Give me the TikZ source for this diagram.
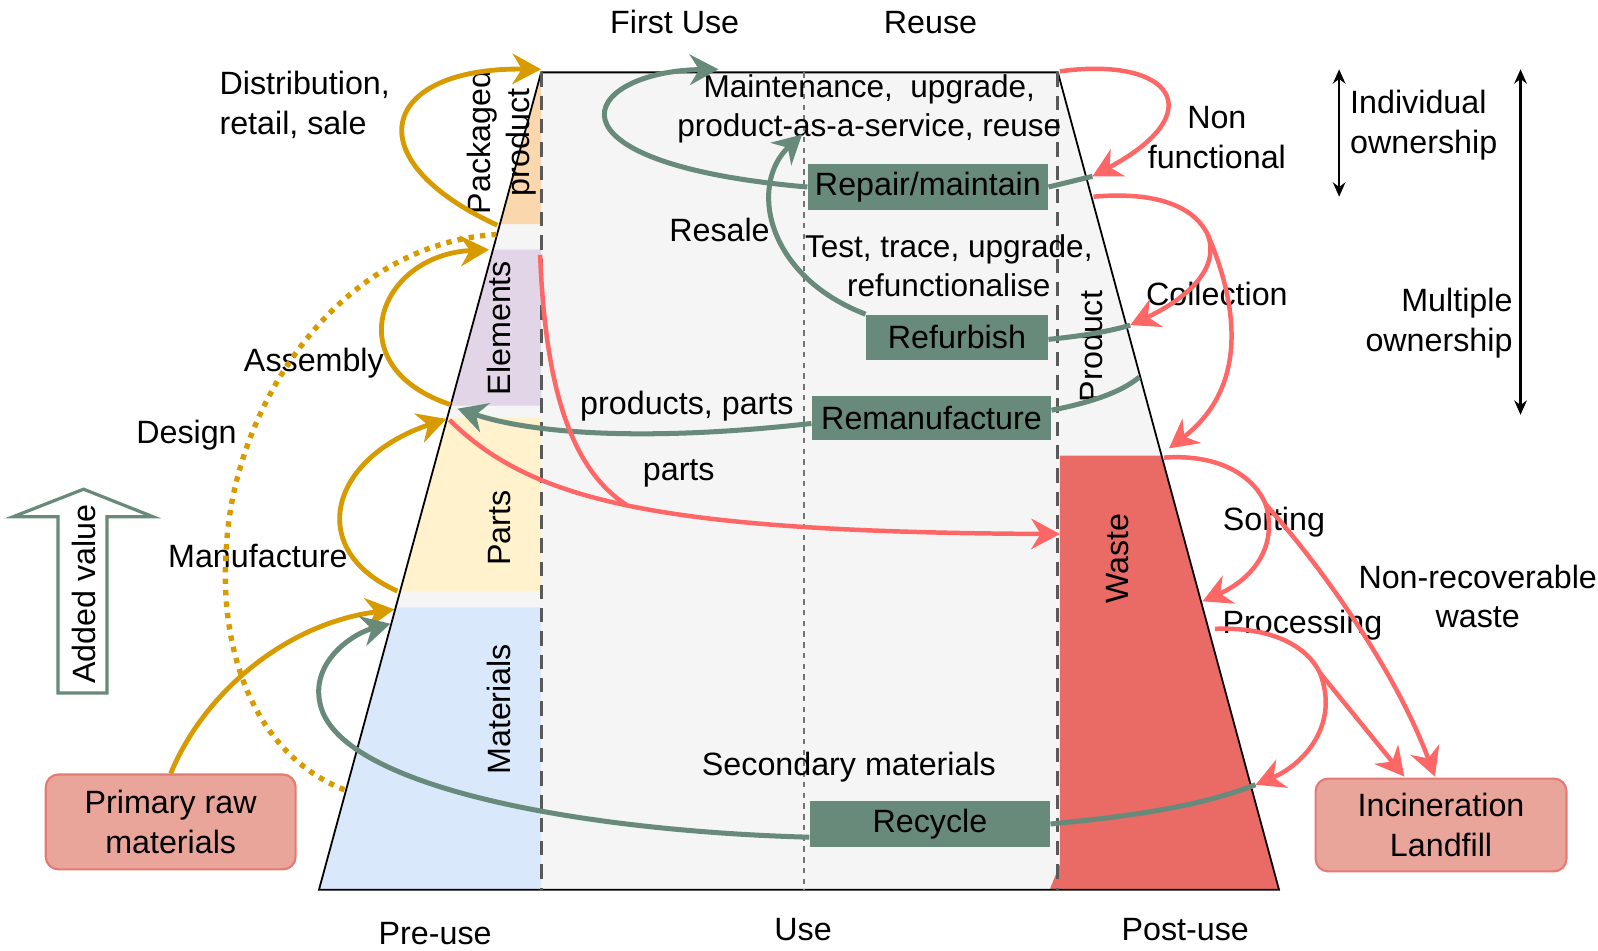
\documentclass[tikz,border=0pt]{standalone}
\usepackage{fontspec}
\setmainfont{Liberation Sans}
\usetikzlibrary{arrows.meta}
\definecolor{gold}{HTML}{D79B00}
\definecolor{sage}{HTML}{688A7A}
\definecolor{coral}{HTML}{FF6666}
\definecolor{wastered}{HTML}{EA6B66}
\definecolor{salmon}{HTML}{EAA59A}
\definecolor{salmonline}{HTML}{E37B74}
\definecolor{stagefill}{HTML}{F5F5F5}
\definecolor{pkgfill}{HTML}{FAD7AC}
\definecolor{elemfill}{HTML}{E1D5E7}
\definecolor{partfill}{HTML}{FFF2CC}
\definecolor{matfill}{HTML}{DAE8FC}
\begin{document}
\begin{tikzpicture}[x=0.01cm,y=-0.01cm,
  every node/.style={font=\fontsize{9}{11}\selectfont, inner sep=0pt, align=center},
  vlbl/.style={rotate=90},
  flowtip/.style={-{Stealth[length=8pt,width=8.5pt,inset=2.6pt]}},
  goldline/.style={draw=gold, line width=1.35pt},
  sageline/.style={draw=sage, line width=1.4pt},
  coralline/.style={draw=coral, line width=1.25pt},
  gbox/.style={fill=sage, draw=none},
  rawbox/.style={fill=salmon, draw=salmonline, line width=0.6pt, rounded corners=3.5pt},
  divider/.style={draw=black!65, line width=0.8pt, dash pattern=on 4pt off 2.5pt},
  middiv/.style={draw=black!55, line width=0.4pt, dash pattern=on 1.5pt off 1.5pt},
  span/.style={draw=black, line width=0.6pt, {Stealth[length=4pt,width=3.5pt]}-{Stealth[length=4pt,width=3.5pt]}},
]
\useasboundingbox (0,0) rectangle (1568,933);

% ---- life-cycle trapezoid ----
\fill[stagefill] (531,71) -- (1038,71) -- (1255,873) -- (313,873) -- cycle;
% pre-use bands
\fill[pkgfill]  (531,71) -- (531,220) -- (490.5,220) -- cycle;
\fill[elemfill] (483.7,245) -- (531,245) -- (531,398) -- (442.1,398) -- cycle;
\fill[partfill] (438.9,410) -- (531,410) -- (531,580) -- (392.6,580) -- cycle;
\fill[matfill]  (388.3,596) -- (531,596) -- (531,873) -- (313,873) -- cycle;
% waste block
\fill[wastered] (1040,447) -- (1139.7,447) -- (1255,873) -- (1030,873) -- (1040,848) -- cycle;
% outline
\draw[line width=0.5pt] (531,71) -- (1038,71) -- (1255,873) -- (313,873) -- cycle;
% stage dividers
\draw[divider] (531,71) -- (531,873);
\draw[divider] (1038,71) -- (1038,873);
\draw[middiv] (789,71) -- (789,873);

% ---- band labels ----
\node[vlbl] (lpkg) at (492,140) {Packaged\\product};
\node[vlbl] (lelem) at (490,322) {Elements};
\node[vlbl] (lparts) at (490,518) {Parts};
\node[vlbl] (lmat) at (490,696) {Materials};
\node[vlbl] (lprod) at (1070,340) {Product};
\node[vlbl] (lwaste) at (1097,548) {Waste};

% ---- stage titles ----
\node (firstuse) at (662,22) {First Use};
\node (reuse) at (913,22) {Reuse};
\node (preuse) at (427,916) {Pre-use};
\node (use) at (788,912) {Use};
\node (postuse) at (1163,912) {Post-use};

% ---- process boxes ----
\node[gbox, minimum width=2.35cm, minimum height=0.45cm] (repair) at (910.5,183.5) {Repair/maintain};
\node[gbox, minimum width=1.78cm, minimum height=0.44cm] (refurb) at (939,331) {Refurbish};
\node[gbox, minimum width=2.34cm, minimum height=0.43cm] (reman) at (914,410.5) {Remanufacture};
\node[gbox, minimum width=2.35cm, minimum height=0.45cm] (recycle) at (912.5,808.5) {Recycle};
\node[rawbox, minimum width=2.45cm, minimum height=0.93cm] (raw) at (167.5,806.5) {Primary raw\\materials};
\node[rawbox, minimum width=2.46cm, minimum height=0.91cm] (incin) at (1414,809.5) {Incineration\\Landfill};

% ---- flow labels ----
\node[align=left] (ldist) at (299,103) {Distribution,\\retail, sale};
\node (lassem) at (308,356) {Assembly};
\node (ldesign) at (183,427) {Design};
\node (lmanuf) at (253,546) {Manufacture};
\node[font=\fontsize{8.8}{11}\selectfont] (lmaint) at (853,107) {Maintenance,\ \ upgrade,\\product-as-a-service, reuse};
\node (lresale) at (706,226) {Resale};
\node[font=\fontsize{8.8}{11}\selectfont] (ltest) at (931,261) {Test, trace, upgrade,\\refunctionalise};
\node (lprodparts) at (674,399) {products, parts};
\node (lparts2) at (666,465) {parts};
\node (lnonf) at (1194,135) {Non\\functional};
\node (lcoll) at (1194,288) {Collection};
\node (lsort) at (1250,512) {Sorting};
\node (lproc) at (1278,613) {Processing};
\node (lnonrec) at (1450,585) {Non-recoverable\\waste};
\node (lsecond) at (833,753) {Secondary materials};
\node[align=left] (lindiv) at (1397,123) {Individual\\ownership};
\node[align=right] (lmulti) at (1412,317) {Multiple\\ownership};

% ---- anchor points on the trapezoid edges ----
\coordinate (pkgfoot) at (488,221);
\coordinate (pkgtop) at (531,68);
\coordinate (elemfoot) at (442,397);
\coordinate (elemtop) at (480,245);
\coordinate (partfoot) at (390,580);
\coordinate (parttop) at (438,411);
\coordinate (mattop) at (387,598);
\coordinate (matin) at (383,612);
\coordinate (designfoot) at (338,775);
\coordinate (designtop) at (487,230);
\coordinate (usetop) at (705,68);
\coordinate (resaletop) at (787,132);
\coordinate (remanin) at (449,401);
\coordinate (prodtop) at (1040,70);
\coordinate (repairedge) at (1072,173);
\coordinate (collstart) at (1073,193);
\coordinate (collsplit) at (1185,230);
\coordinate (refurbedge) at (1109,319);
\coordinate (remanedge) at (1118,370);
\coordinate (wastetop) at (1147,440);
\coordinate (partsout) at (441,412);
\coordinate (elemout) at (530,250);
\coordinate (wastein) at (1040,524);
\coordinate (sortstart) at (1142,449);
\coordinate (sortsplit) at (1242,495);
\coordinate (sortend) at (1180,590);
\coordinate (procstart) at (1192,617);
\coordinate (procsplit) at (1295,660);
\coordinate (recyedge) at (1232,770);
\coordinate (incinA) at (1378,762);
\coordinate (incinB) at (1408,762);

% ---- pre-use (gold) flows ----
\draw[goldline, flowtip] (pkgfoot) .. controls (345,155) and (375,66) .. (pkgtop);
\draw[goldline, flowtip] (elemfoot) .. controls (330,360) and (371,250) .. (elemtop);
\draw[goldline, flowtip] (partfoot) .. controls (300,540) and (322,450) .. (parttop);
\draw[goldline, flowtip] (raw.north) .. controls (200,680) and (280,612) .. (mattop);
\draw[goldline, line width=1.5pt, dash pattern=on 1.5pt off 1.7pt]
  (designfoot) .. controls (250,740) and (215,640) .. (222,540)
  .. controls (228,400) and (330,240) .. (designtop);

% ---- reuse (sage) loops ----
\draw[sageline, flowtip] (repair.west) .. controls (520,160) and (570,70) .. (usetop);
\draw[sageline, flowtip] (refurb.north west) .. controls (750,270) and (735,180) .. (resaletop);
\draw[sageline, flowtip] ([yshift=-0.5mm]reman.west) .. controls (650,432) and (530,428) .. (remanin);
\draw[sageline, flowtip] ([yshift=-1.3mm]recycle.west) .. controls (560,815) and (330,770) .. (314,690)
  .. controls (305,650) and (345,622) .. (matin);
\draw[sageline] (repair.east) -- (repairedge);
\draw[sageline] ([yshift=-0.2mm]refurb.east) .. controls (1060,330) and (1090,325) .. (refurbedge);
\draw[sageline] ([yshift=0.8mm]reman.east) .. controls (1070,395) and (1100,385) .. (remanedge);
\draw[sageline] (recycle.east) .. controls (1120,800) and (1180,790) .. (recyedge);

% ---- post-use (coral) flows ----
\draw[coralline, flowtip] (prodtop) .. controls (1150,55) and (1190,110) .. (repairedge);
\draw[coralline] (collstart) .. controls (1130,188) and (1170,200) .. (collsplit);
\draw[coralline, flowtip] (collsplit) .. controls (1200,270) and (1150,300) .. (refurbedge);
\draw[coralline, flowtip] (collsplit) .. controls (1215,300) and (1225,380) .. (wastetop);
\draw[coralline, flowtip] (partsout) .. controls (520,490) and (640,522) .. coordinate[pos=0.49] (merge) (wastein);
\draw[coralline] (elemout) .. controls (535,380) and (560,460) .. (merge);
\draw[coralline] (sortstart) .. controls (1200,445) and (1232,470) .. (sortsplit);
\draw[coralline, flowtip] (sortsplit) .. controls (1255,540) and (1225,570) .. (sortend);
\draw[coralline, flowtip] (sortsplit) .. controls (1300,560) and (1370,660) .. (incinB);
\draw[coralline] (procstart) .. controls (1250,615) and (1283,635) .. (procsplit);
\draw[coralline, flowtip] (procsplit) .. controls (1315,710) and (1280,750) .. (recyedge);
\draw[coralline, flowtip] (procsplit) -- (incinA);

% ---- ownership spans ----
\coordinate (indivtop) at (1314,68);
\coordinate (indivbot) at (1314,193);
\coordinate (multitop) at (1492,68);
\coordinate (multibot) at (1492,407);
\draw[span] (indivtop) -- (indivbot);
\draw[span] (multitop) -- (multibot);

% ---- added value block arrow ----
\draw[draw=sage, line width=0.9pt, fill=white]
  (57,680) -- (57,507) -- (13,507) -- (82,480) -- (150,507) -- (105,507) -- (105,680) -- cycle;
\node[vlbl] (addval) at (82,583) {Added value};
\end{tikzpicture}
\end{document}
